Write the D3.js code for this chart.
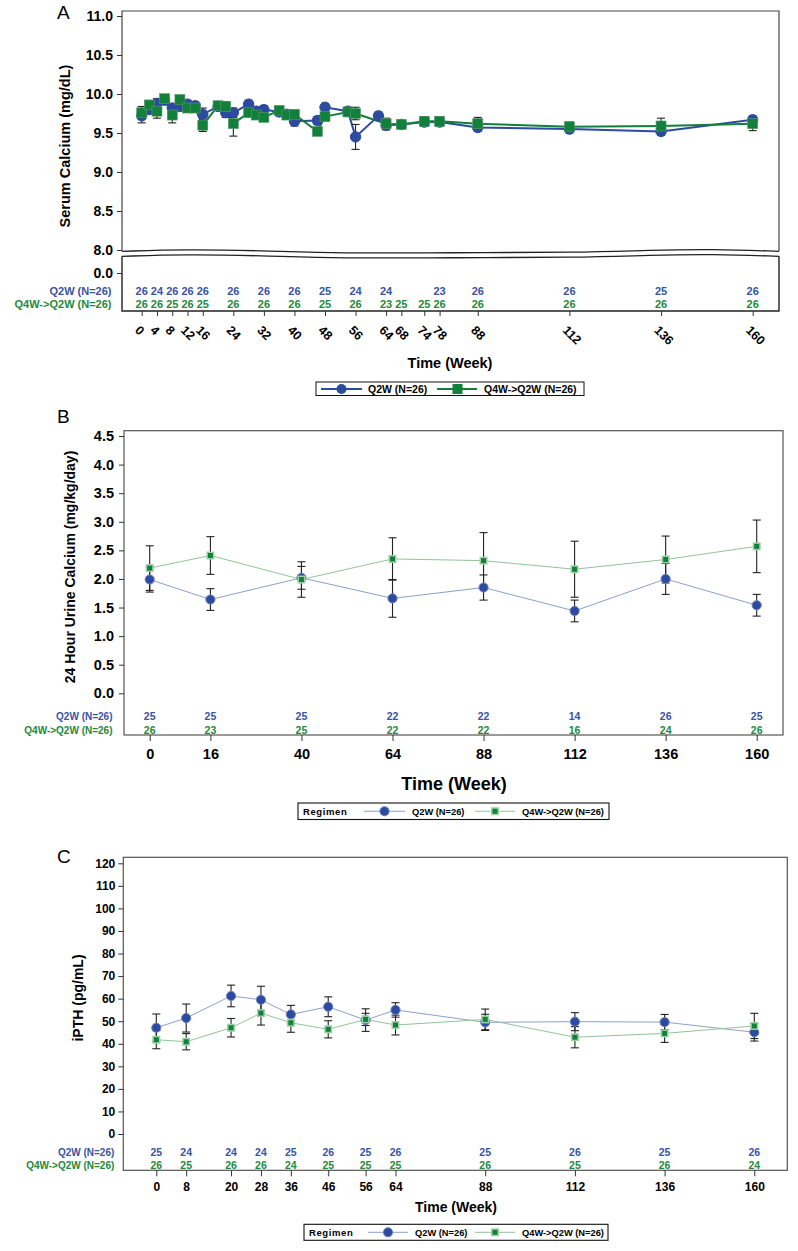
<!DOCTYPE html>
<html><head><meta charset="utf-8">
<script src="https://cdn.jsdelivr.net/npm/d3@7"></script>
<style>body{margin:0;background:#fff;}svg{display:block;}</style>
</head><body><svg id="c" width="798" height="1251"></svg>
<script>
// ---------- Panel A data: Serum calcium ----------
const weeksA = [0,2,4,6,8,10,12,14,16,20,22,24,28,30,32,36,38,40,46,48,54,56,62,64,68,74,78,88,112,136,160];
const q2wA   = [9.72,9.80,9.88,9.92,9.82,9.84,9.87,9.85,9.74,9.84,9.76,9.76,9.87,9.78,9.80,9.77,9.74,9.65,9.66,9.83,9.78,9.45,9.72,9.60,9.61,9.64,9.64,9.57,9.55,9.52,9.67];
const seQ2wA = [0.09,0.05,0.06,0.05,0.05,0.05,0.05,0.05,0.08,0.05,0.06,0.06,0.05,0.05,0.05,0.05,0.05,0.06,0.05,0.05,0.05,0.16,0.05,0.06,0.05,0.05,0.05,0.05,0.05,0.05,0.05];
const q4wA   = [9.76,9.86,9.78,9.94,9.73,9.93,9.82,9.82,9.60,9.85,9.84,9.62,9.76,9.73,9.70,9.79,9.73,9.74,9.52,9.71,9.77,9.75,null,9.62,9.61,9.65,9.65,9.62,9.58,9.59,9.62];
const seQ4wA = [0.08,0.05,0.09,0.05,0.10,0.05,0.05,0.05,0.08,0.05,0.06,0.16,0.05,0.05,0.05,0.05,0.05,0.05,0.05,0.05,0.05,0.08,null,0.07,0.05,0.06,0.06,0.08,0.06,0.10,0.09];
const tickWeeksA = [0,4,8,12,16,24,32,40,48,56,64,68,74,78,88,112,136,160];
const nQ2wA = [26,24,26,26,26,26,26,26,25,24,24,null,null,23,26,26,25,26];
const nQ4wA = [26,26,25,26,25,26,26,26,25,26,23,25,25,26,26,26,26,26];
const yTicksA = [8.0,8.5,9.0,9.5,10.0,10.5,11.0];

// ---------- Panel B data: 24 h urine calcium ----------
const weeksB = [0,16,40,64,88,112,136,160];
const q2wB   = [1.99,1.64,2.02,1.66,1.85,1.44,2.00,1.54];
const seQ2wB = [0.22,0.19,0.20,0.33,0.22,0.19,0.27,0.19];
const q4wB   = [2.19,2.41,1.99,2.35,2.32,2.17,2.34,2.57];
const seQ4wB = [0.39,0.33,0.31,0.37,0.49,0.49,0.41,0.46];
const nQ2wB = [25,25,25,22,22,14,26,25];
const nQ4wB = [26,23,25,22,22,16,24,26];
const yTicksB = [0.0,0.5,1.0,1.5,2.0,2.5,3.0,3.5,4.0,4.5];

// ---------- Panel C data: iPTH ----------
const weeksC = [0,8,20,28,36,46,56,64,88,112,136,160];
const q2wC   = [47.1,51.4,61.2,59.5,53.0,56.4,50.5,55.0,49.5,49.8,49.6,45.1];
const seQ2wC = [6.1,6.2,4.8,6.0,4.0,4.4,5.0,3.2,3.6,4.0,3.4,3.9];
const q4wC   = [41.8,40.9,47.1,53.6,49.3,46.4,50.8,48.3,50.8,42.9,44.6,47.9];
const seQ4wC = [4.0,3.6,4.1,5.3,4.2,3.8,2.7,4.4,4.6,4.7,4.0,5.6];
const nQ2wC = [25,24,24,24,25,26,25,26,25,26,25,26];
const nQ4wC = [26,25,26,26,24,25,25,25,26,25,26,24];
const yTicksC = [0,10,20,30,40,50,60,70,80,90,100,110,120];

const seriesNames = ["Q2W (N=26)", "Q4W->Q2W (N=26)"];

// ---------- styling ----------
const FONT = '"Liberation Sans", Arial, Helvetica, sans-serif';
const BLUE = '#2c4a9f', GREEN = '#11803a';
const BLUE_TXT = '#3954a2', GREEN_TXT = '#23893c';
const BLUE_LINE_LIGHT = '#8f9fcb', GREEN_LINE_LIGHT = '#92c49c';
const svg = d3.select('#c');

function zip(w, v, s) { return w.map((d, i) => ({w: d, v: v[i], s: s[i]})); }

function styleAxis(g, size) {
  g.attr('font-family', FONT).attr('font-size', size).attr('font-weight', 'bold');
  g.select('.domain').remove();
  g.selectAll('.tick line').attr('stroke', '#333');
  g.selectAll('.tick text').attr('fill', '#000');
}

function errorBars(g, data, x, y, cap) {
  const d = data.filter(p => p.v != null && p.s != null);
  const eb = g.append('g').attr('stroke', '#222').attr('stroke-width', 1.1);
  eb.selectAll('line.v').data(d).join('line')
    .attr('x1', p => x(p.w)).attr('x2', p => x(p.w))
    .attr('y1', p => y(p.v - p.s)).attr('y2', p => y(p.v + p.s));
  eb.selectAll('line.t').data(d).join('line')
    .attr('x1', p => x(p.w) - cap).attr('x2', p => x(p.w) + cap)
    .attr('y1', p => y(p.v + p.s)).attr('y2', p => y(p.v + p.s));
  eb.selectAll('line.b').data(d).join('line')
    .attr('x1', p => x(p.w) - cap).attr('x2', p => x(p.w) + cap)
    .attr('y1', p => y(p.v - p.s)).attr('y2', p => y(p.v - p.s));
}

function seriesLine(g, data, x, y, color, width) {
  g.append('path').datum(data)
    .attr('fill', 'none').attr('stroke', color).attr('stroke-width', width)
    .attr('d', d3.line().defined(p => p.v != null).x(p => x(p.w)).y(p => y(p.v)));
}

function circles(g, data, x, y, r, fill, stroke) {
  g.append('g').selectAll('circle').data(data.filter(p => p.v != null)).join('circle')
    .attr('cx', p => x(p.w)).attr('cy', p => y(p.v)).attr('r', r)
    .attr('fill', fill).attr('stroke', stroke).attr('stroke-width', 1);
}

function squares(g, data, x, y, side, fill, stroke, sw) {
  g.append('g').selectAll('rect').data(data.filter(p => p.v != null)).join('rect')
    .attr('x', p => x(p.w) - side / 2).attr('y', p => y(p.v) - side / 2)
    .attr('width', side).attr('height', side)
    .attr('fill', fill).attr('stroke', stroke).attr('stroke-width', sw);
}

function countRows(g, weeks, n1, n2, x, y1, y2, size) {
  const t = g.append('g').attr('font-family', FONT).attr('font-size', size).attr('font-weight', 'bold').attr('text-anchor', 'middle');
  t.selectAll('text.a').data(weeks.map((w, i) => ({w, n: n1[i]})).filter(d => d.n != null)).join('text')
    .attr('x', d => x(d.w)).attr('y', y1).attr('dy', '0.36em').attr('fill', BLUE_TXT).text(d => d.n);
  t.selectAll('text.b').data(weeks.map((w, i) => ({w, n: n2[i]})).filter(d => d.n != null)).join('text')
    .attr('x', d => x(d.w)).attr('y', y2).attr('dy', '0.36em').attr('fill', GREEN_TXT).text(d => d.n);
}

function rowLabels(g, xr, y1, y2, size) {
  const t = g.append('g').attr('font-family', FONT).attr('font-size', size).attr('font-weight', 'bold').attr('text-anchor', 'end');
  t.append('text').attr('x', xr).attr('y', y1).attr('dy', '0.36em').attr('fill', BLUE_TXT).text(seriesNames[0]);
  t.append('text').attr('x', xr).attr('y', y2).attr('dy', '0.36em').attr('fill', GREEN_TXT).text(seriesNames[1]);
}

function panelLetter(letter, x, y) {
  svg.append('text').attr('x', x).attr('y', y).attr('font-family', FONT).attr('font-size', 19).attr('fill', '#000').text(letter);
}

function yTitle(text, x, y, size) {
  svg.append('text').attr('transform', `translate(${x},${y}) rotate(-90)`)
    .attr('text-anchor', 'middle').attr('dy', '0.36em')
    .attr('font-family', FONT).attr('font-size', size).attr('font-weight', 'bold').text(text);
}

function xTitle(text, x, y, size) {
  svg.append('text').attr('x', x).attr('y', y).attr('text-anchor', 'middle')
    .attr('font-family', FONT).attr('font-size', size).attr('font-weight', 'bold').text(text);
}

// =================== PANEL A ===================
(function () {
  const L = 122, R = 779, T = 11, B = 311;
  const x = d3.scaleLinear().domain([0, 160]).range([141.7, 752.7]);
  const y = d3.scaleLinear().domain([8, 11]).range([250, 16]);
  const y0 = d3.scaleLinear().domain([0, 1]).range([273, 195]);
  const g = svg.append('g');
  panelLetter('A', 57, 19);

  // broken frame
  const wavePts = [[L,251.3],[185,249.4],[260,250.6],[340,253.4],[450,252.6],[580,252.6],[650,250.2],[713,249.2],[R,251.3]];
  const wave = d3.line().curve(d3.curveBasis);
  g.append('path').attr('d', wave(wavePts)).attr('fill', 'none').attr('stroke', '#222').attr('stroke-width', 1.3);
  g.append('path').attr('d', wave(wavePts.map(p => [p[0], p[1] + 5]))).attr('fill', 'none').attr('stroke', '#222').attr('stroke-width', 1.3);
  g.append('path').attr('d', `M${L},251.3V${T}H${R}V251.3`).attr('fill', 'none').attr('stroke', '#444').attr('stroke-width', 1.2);
  g.append('path').attr('d', `M${L},256.3V${B}H${R}V256.3`).attr('fill', 'none').attr('stroke', '#222').attr('stroke-width', 1.4);

  // y axes
  g.append('g').attr('transform', `translate(${L},0)`)
    .call(d3.axisLeft(y).tickValues(yTicksA).tickFormat(d3.format('.1f')).tickSize(5).tickPadding(4))
    .call(a => styleAxis(a, 14));
  g.append('g').attr('transform', `translate(${L},0)`)
    .call(d3.axisLeft(y0).tickValues([0]).tickFormat(d3.format('.1f')).tickSize(5).tickPadding(4))
    .call(a => styleAxis(a, 14));

  // x axis with rotated labels
  const xa = g.append('g').attr('transform', `translate(0,${B})`)
    .call(d3.axisBottom(x).tickValues(tickWeeksA).tickSize(5));
  styleAxis(xa, 12.5);
  xa.selectAll('.tick text').attr('x', 0).attr('y', 0).attr('dy', 0)
    .attr('text-anchor', 'start').attr('transform', 'translate(-8,20) rotate(45)');

  xTitle('Time (Week)', 450, 368, 14.5);
  yTitle('Serum Calcium (mg/dL)', 65, 146, 14.5);

  // counts
  rowLabels(g, 111.5, 291, 304, 11);
  countRows(g, tickWeeksA, nQ2wA, nQ4wA, x, 291, 304, 11);

  // series
  const dB = zip(weeksA, q2wA, seQ2wA), dG = zip(weeksA, q4wA, seQ4wA);
  seriesLine(g, dB, x, y, BLUE, 2);
  seriesLine(g, dG.filter(p => p.v != null), x, y, GREEN, 2);
  errorBars(g, dB, x, y, 4);
  errorBars(g, dG, x, y, 4);
  circles(g, dB, x, y, 5.2, BLUE, BLUE);
  squares(g, dG, x, y, 10, GREEN, '#5a9a6a', 0.6);

  // legend
  const lg = g.append('g');
  lg.append('rect').attr('x', 316).attr('y', 382).attr('width', 268).attr('height', 13.5).attr('fill', '#fff').attr('stroke', '#111').attr('stroke-width', 1);
  lg.append('line').attr('x1', 321).attr('x2', 362).attr('y1', 389).attr('y2', 389).attr('stroke', BLUE).attr('stroke-width', 2);
  lg.append('circle').attr('cx', 341.5).attr('cy', 389).attr('r', 5).attr('fill', BLUE);
  lg.append('line').attr('x1', 437).attr('x2', 477).attr('y1', 389).attr('y2', 389).attr('stroke', GREEN).attr('stroke-width', 2);
  lg.append('rect').attr('x', 452.5).attr('y', 384).attr('width', 10).attr('height', 10).attr('fill', GREEN);
  lg.append('text').attr('x', 368).attr('y', 389).attr('dy', '0.36em').attr('font-family', FONT).attr('font-size', 10.5).attr('font-weight', 'bold').text(seriesNames[0]);
  lg.append('text').attr('x', 484).attr('y', 389).attr('dy', '0.36em').attr('font-family', FONT).attr('font-size', 10.5).attr('font-weight', 'bold').text(seriesNames[1]);
})();

// generic panel for B and C
function panelBC(o) {
  const g = svg.append('g');
  panelLetter(o.letter, 57, o.letterY);
  g.append('rect').attr('x', o.L).attr('y', o.T).attr('width', o.R - o.L).attr('height', o.B - o.T)
    .attr('fill', 'none').attr('stroke', '#555').attr('stroke-width', 1.2);
  g.append('g').attr('transform', `translate(${o.L},0)`)
    .call(d3.axisLeft(o.y).tickValues(o.yTicks).tickFormat(o.fmt).tickSize(5).tickPadding(o.pad))
    .call(a => styleAxis(a, o.yFont));
  const xa = g.append('g').attr('transform', `translate(0,${o.B})`)
    .call(d3.axisBottom(o.x).tickValues(o.weeks).tickSize(6).tickPadding(o.xPad));
  styleAxis(xa, o.xFont);
  xTitle('Time (Week)', o.xTitleX, o.xTitleY, o.xTitleFont);
  yTitle(o.yTitle, o.yTitleX, o.yTitleY, o.yTitleFont);
  rowLabels(g, o.rowX, o.row1, o.row2, o.rowFont);
  countRows(g, o.weeks, o.n1, o.n2, o.x, o.row1, o.row2, o.rowFont + 0.5);

  const dB = zip(o.weeks, o.v1, o.s1), dG = zip(o.weeks, o.v2, o.s2);
  seriesLine(g, dB, o.x, o.y, BLUE_LINE_LIGHT, 1);
  seriesLine(g, dG, o.x, o.y, GREEN_LINE_LIGHT, 1);
  errorBars(g, dB, o.x, o.y, 4);
  errorBars(g, dG, o.x, o.y, 4);
  circles(g, dB, o.x, o.y, 4.6, BLUE, '#6f83be');
  squares(g, dG, o.x, o.y, 6.5, GREEN, '#9fd0a8', 1.5);

  // legend
  const lg = g.append('g').attr('font-family', FONT).attr('font-weight', 'bold');
  const cy = o.legY + o.legH / 2;
  lg.append('rect').attr('x', o.legX).attr('y', o.legY).attr('width', o.legW).attr('height', o.legH)
    .attr('fill', '#fff').attr('stroke', '#111').attr('stroke-width', 1.1);
  lg.append('text').attr('x', o.legX + 5).attr('y', cy).attr('dy', '0.36em').attr('font-size', 9.5).attr('letter-spacing', 0.6).text('Regimen');
  lg.append('line').attr('x1', o.l1[0]).attr('x2', o.l1[1]).attr('y1', cy).attr('y2', cy).attr('stroke', BLUE_LINE_LIGHT).attr('stroke-width', 1);
  lg.append('circle').attr('cx', (o.l1[0] + o.l1[1]) / 2).attr('cy', cy).attr('r', 4.6).attr('fill', BLUE).attr('stroke', '#6f83be');
  lg.append('text').attr('x', o.l1[1] + 7).attr('y', cy).attr('dy', '0.36em').attr('font-size', 9.3).text(seriesNames[0]);
  lg.append('line').attr('x1', o.l2[0]).attr('x2', o.l2[1]).attr('y1', cy).attr('y2', cy).attr('stroke', GREEN_LINE_LIGHT).attr('stroke-width', 1);
  lg.append('rect').attr('x', (o.l2[0] + o.l2[1]) / 2 - 3.25).attr('y', cy - 3.25).attr('width', 6.5).attr('height', 6.5).attr('fill', GREEN).attr('stroke', '#9fd0a8').attr('stroke-width', 1.5);
  lg.append('text').attr('x', o.l2[1] + 7).attr('y', cy).attr('dy', '0.36em').attr('font-size', 9.3).text(seriesNames[1]);
}

// =================== PANEL B ===================
panelBC({
  letter: 'B', letterY: 423,
  L: 124, R: 783, T: 430.7, B: 735,
  x: d3.scaleLinear().domain([0, 160]).range([149.7, 756.7]),
  y: d3.scaleLinear().domain([0, 4.5]).range([693.3, 436]),
  yTicks: yTicksB, fmt: d3.format('.1f'), pad: 5, yFont: 14.5,
  weeks: weeksB, xFont: 14.5, xPad: 8,
  xTitleX: 454, xTitleY: 790, xTitleFont: 18,
  yTitle: '24 Hour Urine Calcium (mg/kg/day)', yTitleX: 70, yTitleY: 567, yTitleFont: 14,
  rowX: 112.5, row1: 716.7, row2: 730, rowFont: 10,
  n1: nQ2wB, n2: nQ4wB, v1: q2wB, s1: seQ2wB, v2: q4wB, s2: seQ4wB,
  legX: 298, legY: 803, legW: 311, legH: 16.5, l1: [364, 405], l2: [475, 515]
});

// =================== PANEL C ===================
panelBC({
  letter: 'C', letterY: 863,
  L: 123.3, R: 787.3, T: 857.3, B: 1170.3,
  x: d3.scaleLinear().domain([0, 160]).range([156.3, 754.3]),
  y: d3.scaleLinear().domain([0, 120]).range([1134, 863.3]),
  yTicks: yTicksC, fmt: d3.format('d'), pad: 3, yFont: 12,
  weeks: weeksC, xFont: 12, xPad: 6,
  xTitleX: 456, xTitleY: 1212, xTitleFont: 14,
  yTitle: 'iPTH (pg/mL)', yTitleX: 77.5, yTitleY: 998, yTitleFont: 14,
  rowX: 114.3, row1: 1152.3, row2: 1165.3, rowFont: 10,
  n1: nQ2wC, n2: nQ4wC, v1: q2wC, s1: seQ2wC, v2: q4wC, s2: seQ4wC,
  legX: 304, legY: 1224.3, legW: 304, legH: 16, l1: [368, 408], l2: [475, 515]
});
</script>
</body></html>
